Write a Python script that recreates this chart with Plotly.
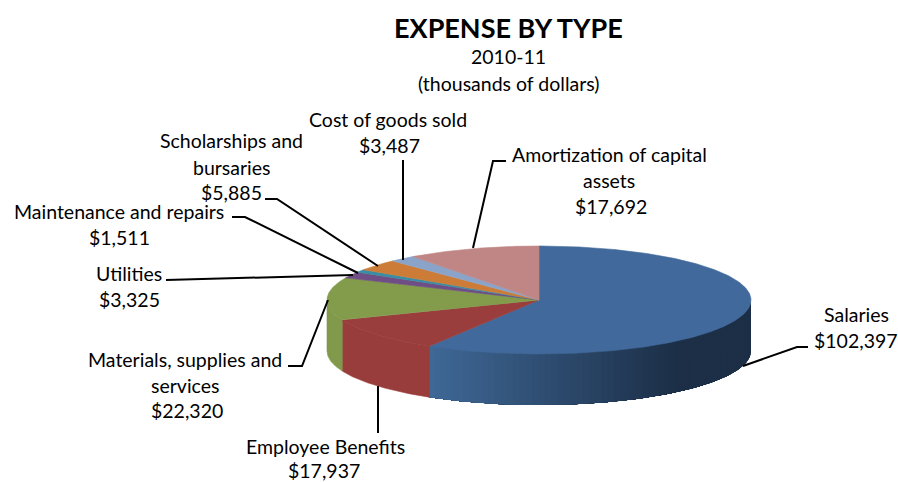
import math
import plotly.graph_objects as go

categories = ["Salaries", "Employee Benefits", "Materials, supplies and services", "Utilities",
              "Maintenance and repairs", "Scholarships and bursaries", "Cost of goods sold",
              "Amortization of capital assets"]
values = [102397, 17937, 22320, 3325, 1511, 5885, 3487, 17692]
top_colors = ["#41699B", "#993E3C", "#829C4C", "#6F4E85", "#3A8DA3", "#CC7C37", "#8AA4C9", "#BF8685"]
side_colors = [None, "#983D3B", "#80994A", "#6A4A80", "#36879C", "#C47632", "#85A0C4", "#B88180"]

FONT = "Lato"
SIZE = 19.5
CX, CY, RX, RY, DEPTH = 539, 300, 212, 54, 51
BLUE_A, BLUE_B = (63, 104, 150), (28, 47, 71)


def pt(deg, dy=0):
    a = math.radians(deg)
    return CX + RX * math.sin(a), CY - RY * math.cos(a) + dy


def arc(a0, a1, dy=0):
    n = max(2, int(abs(a1 - a0)) * 2 + 2)
    return [pt(a0 + (a1 - a0) * i / (n - 1), dy) for i in range(n)]


def poly(points, color, width=0.6):
    xs = [p[0] for p in points] + [points[0][0]]
    ys = [p[1] for p in points] + [points[0][1]]
    return go.Scatter(x=xs, y=ys, mode="lines", fill="toself", fillcolor=color,
                      line=dict(color=color, width=width), hoverinfo="skip", showlegend=False)


def strip_color(x):
    t = min(1, max(0, (x - 430) / (675 - 430)))
    return "rgb(%d,%d,%d)" % tuple(round(a + (b - a) * t) for a, b in zip(BLUE_A, BLUE_B))


total = sum(values)
edges = [0]
for v in values:
    edges.append(edges[-1] + v / total * 360)

fig = go.Figure()

# Front wall: only the part of the rim between 90 and 270 degrees is visible
for i in range(len(values)):
    a0, a1 = max(edges[i], 90), min(edges[i + 1], 270)
    if a1 <= a0:
        continue
    if i == 0:
        # Each gradient step is painted over the previous one, so no seams show
        steps = 70
        for k in range(steps):
            s0 = a0 + (a1 - a0) * k / steps
            s1 = a0 + (a1 - a0) * (k + 1) / steps
            fig.add_trace(poly(arc(s0, a1) + arc(a1, s0, DEPTH), strip_color(pt((s0 + s1) / 2)[0]), 0))
    else:
        fig.add_trace(poly(arc(a0, a1) + arc(a1, a0, DEPTH), side_colors[i]))

# Top face
for i in range(len(values)):
    fig.add_trace(poly([(CX, CY)] + arc(edges[i], edges[i + 1]), top_colors[i]))

# Leader lines
leaders = [
    [(743, 366), (797, 347), (808, 347)],
    [(378, 386), (378, 433)],
    [(328, 300), (302, 366), (288, 366)],
    [(166, 280), (353, 275)],
    [(232, 217), (245, 217), (358, 273)],
    [(265, 199), (277, 199), (378, 266)],
    [(403, 160), (403, 260)],
    [(473, 248), (493, 161), (506, 161)],
]
for line in leaders:
    fig.add_trace(go.Scatter(x=[p[0] for p in line], y=[p[1] for p in line], mode="lines",
                             line=dict(color="black", width=2), hoverinfo="skip", showlegend=False))

texts = [
    ("Salaries", 856, 314), ("$102,397", 856, 340),
    ("Employee Benefits", 325, 446), ("$17,937", 324, 470),
    ("Materials, supplies and", 185, 359), ("services", 185, 385), ("$22,320", 187, 410),
    ("Utilities", 129, 273), ("$3,325", 129, 299),
    ("Maintenance and repairs", 119, 211), ("$1,511", 119, 237),
    ("Scholarships and", 231, 140), ("bursaries", 231, 167), ("$5,885", 231, 192),
    ("Cost of goods sold", 388, 119), ("$3,487", 389, 145),
    ("Amortization of capital", 609, 154), ("assets", 609, 180), ("$17,692", 611, 206),
    ("2010-11", 508, 56), ("(thousands of dollars)", 508, 83),
]
annotations = [dict(x=x, y=y, text=t, showarrow=False, xanchor="center", yanchor="middle",
                    font=dict(family=FONT, size=SIZE, color="black")) for t, x, y in texts]
annotations.append(dict(x=508, y=27, text="<b>EXPENSE BY TYPE</b>", showarrow=False,
                        xanchor="center", yanchor="middle",
                        font=dict(family=FONT, size=27, color="black")))

fig.update_layout(
    width=898, height=482, margin=dict(l=0, r=0, t=0, b=0),
    paper_bgcolor="white", plot_bgcolor="white", showlegend=False,
    xaxis=dict(range=[0, 898], visible=False, fixedrange=True),
    yaxis=dict(range=[482, 0], visible=False, fixedrange=True),
    annotations=annotations,
)
fig.write_html("out.html", config={"displayModeBar": False},
               post_script="document.body.style.margin='0';document.body.style.overflow='hidden';")
